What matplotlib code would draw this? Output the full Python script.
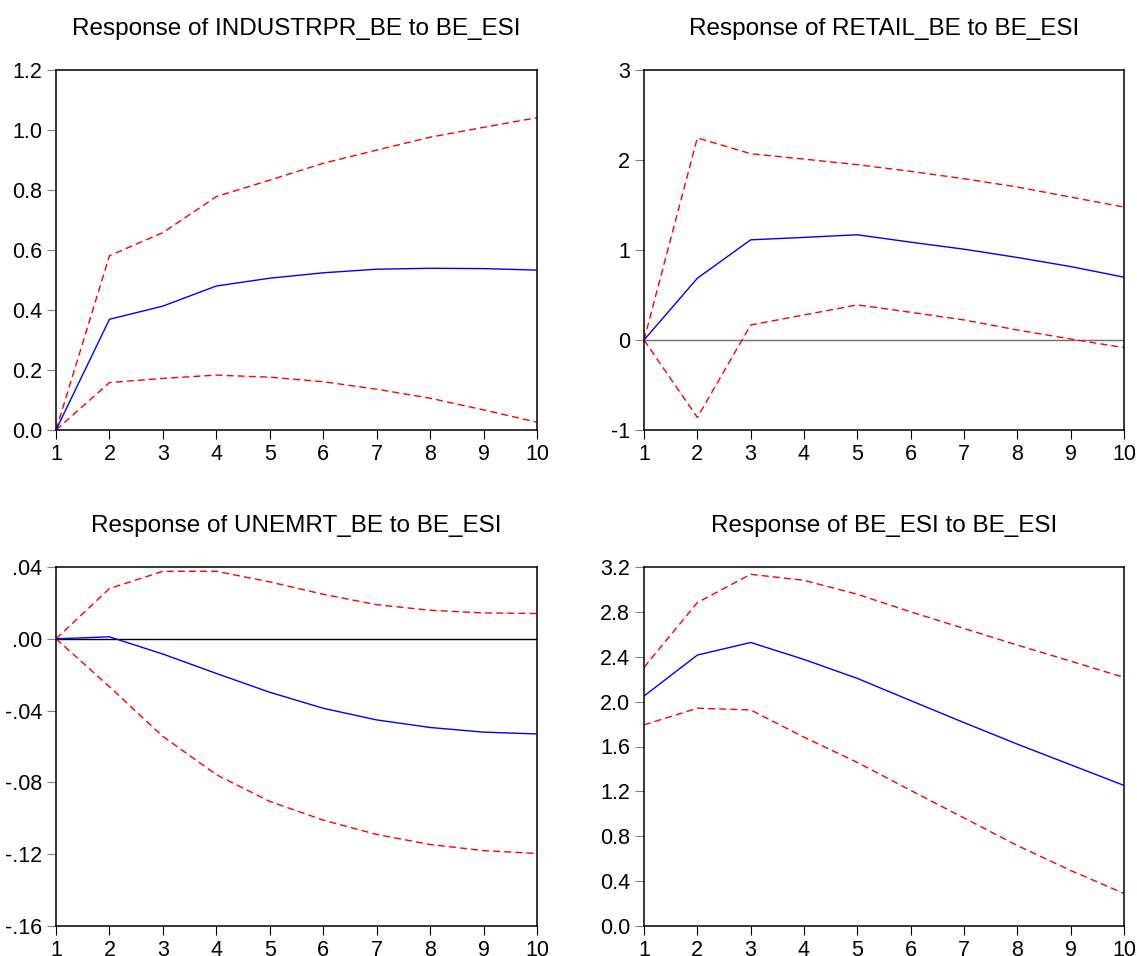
import numpy as np
import matplotlib
matplotlib.use("Agg")
import matplotlib.pyplot as plt
from matplotlib.ticker import FuncFormatter

plt.rcParams['font.family'] = ['Liberation Sans', 'DejaVu Sans']

# impulse response horizon
periods = list(range(1, 11))

# Response of INDUSTRPR_BE to BE_ESI
ind_resp = [0.0, 0.369, 0.413, 0.480, 0.506, 0.524, 0.536, 0.539, 0.538, 0.533]
ind_upper = [0.0, 0.581, 0.658, 0.778, 0.833, 0.889, 0.933, 0.976, 1.009, 1.041]
ind_lower = [0.0, 0.158, 0.172, 0.183, 0.176, 0.161, 0.136, 0.106, 0.067, 0.026]

# Response of RETAIL_BE to BE_ESI
ret_resp = [0.0, 0.686, 1.113, 1.140, 1.169, 1.087, 1.009, 0.917, 0.816, 0.698]
ret_upper = [0.0, 2.245, 2.070, 2.010, 1.948, 1.874, 1.792, 1.700, 1.588, 1.477]
ret_lower = [0.0, -0.861, 0.167, 0.278, 0.390, 0.308, 0.223, 0.111, 0.011, -0.085]

# Response of UNEMRT_BE to BE_ESI
une_resp = [0.0, 0.0011, -0.0085, -0.0193, -0.0298, -0.0387, -0.0452, -0.0494, -0.0520, -0.0530]
une_upper = [0.0, 0.0280, 0.0376, 0.0376, 0.0317, 0.0248, 0.0190, 0.0159, 0.0144, 0.0141]
une_lower = [0.0, -0.0267, -0.0544, -0.0757, -0.0906, -0.1010, -0.1090, -0.1146, -0.1180, -0.1196]

# Response of BE_ESI to BE_ESI
esi_resp = [2.050, 2.415, 2.527, 2.376, 2.207, 2.009, 1.813, 1.621, 1.437, 1.253]
esi_upper = [2.305, 2.883, 3.135, 3.081, 2.957, 2.800, 2.652, 2.504, 2.361, 2.216]
esi_lower = [1.793, 1.941, 1.926, 1.683, 1.458, 1.209, 0.963, 0.717, 0.495, 0.290]

titles = ["Response of INDUSTRPR_BE to BE_ESI", "Response of RETAIL_BE to BE_ESI",
          "Response of UNEMRT_BE to BE_ESI", "Response of BE_ESI to BE_ESI"]
ylims = [(0.0, 1.2), (-1, 3), (-0.16, 0.04), (0.0, 3.2)]
yticks = [np.arange(0, 1.21, 0.2), [-1, 0, 1, 2, 3],
          [-0.16, -0.12, -0.08, -0.04, 0.0, 0.04], np.arange(0, 3.21, 0.4)]
zero_line = [None, "#707070", "black", None]


def fmt_one_dec(v, pos):
    return f"{v:.1f}"


def fmt_int(v, pos):
    return f"{v:.0f}"


def fmt_eviews(v, pos):
    s = f"{v:.2f}"
    if abs(v) < 1e-9:
        return ".00"
    return s.replace("0.", ".")


formatters = [fmt_one_dec, fmt_int, fmt_eviews, fmt_one_dec]
series = [(ind_resp, ind_upper, ind_lower), (ret_resp, ret_upper, ret_lower),
          (une_resp, une_upper, une_lower), (esi_resp, esi_upper, esi_lower)]

W, H = 1137, 956
fig = plt.figure(figsize=(W / 100, H / 100), dpi=100)
boxes = [(56, 70, 537, 430), (644, 70, 1124, 430),
         (56, 567, 537, 926), (644, 567, 1124, 926)]

for i, (x0, y0, x1, y1) in enumerate(boxes):
    ax = fig.add_axes([x0 / W, 1 - y1 / H, (x1 - x0) / W, (y1 - y0) / H])
    resp, up, lo = series[i]
    if zero_line[i]:
        ax.axhline(0, color=zero_line[i], lw=1.0, zorder=1)
    ax.plot(periods, up, color="red", lw=1.0, dashes=(5, 3), zorder=2)
    ax.plot(periods, lo, color="red", lw=1.0, dashes=(5, 3), zorder=2)
    ax.plot(periods, resp, color="blue", lw=1.0, zorder=3)
    ax.set_xlim(1, 10)
    ax.set_ylim(*ylims[i])
    ax.set_xticks(periods)
    ax.set_yticks(yticks[i])
    ax.yaxis.set_major_formatter(FuncFormatter(formatters[i]))
    ax.tick_params(axis="y", direction="out", length=6.5, width=0.8,
                   color="#808080", labelsize=15.5, pad=3.5)
    ax.tick_params(axis="x", direction="out", length=6.5, width=0.8,
                   color="black", labelsize=15.5, pad=3.5)
    for sp in ax.spines.values():
        sp.set_linewidth(1.1)
        sp.set_color("black")
    ax.set_title(titles[i], fontsize=17.5, pad=25)

fig.savefig("out.png", dpi=100)
